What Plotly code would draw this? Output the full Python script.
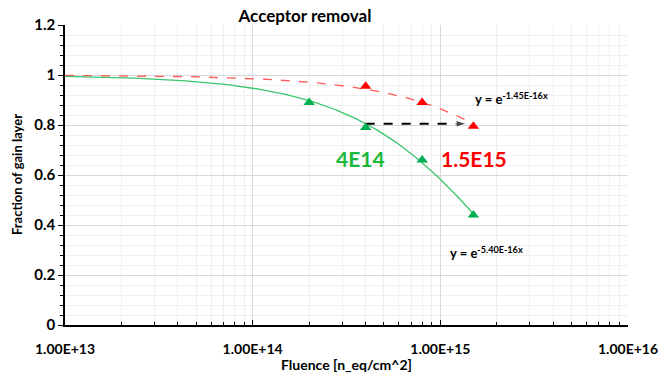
import numpy as np
import plotly.graph_objects as go

# ---- data ----
green_x = [2e14, 4e14, 8e14, 1.5e15]
green_y = [0.89, 0.79, 0.66, 0.44]
red_x = [4e14, 8e14, 1.5e15]
red_y = [0.955, 0.89, 0.795]

# fit coefficients shown on chart
green_k = 5.40e-16
red_k = 1.45e-16
fit_start, fit_end = 1e13, 1.5e15

x_tickvals = [1e13, 1e14, 1e15, 1e16]
x_ticktext = ["1.00E+13", "1.00E+14", "1.00E+15", "1.00E+16"]
y_tickvals = [0, 0.2, 0.4, 0.6, 0.8, 1.0, 1.2]
y_ticktext = ["0", "0.2", "0.4", "0.6", "0.8", "1", "1.2"]

arrow_x = [4e14, 1.38e15]
arrow_y = [0.805, 0.805]

FONT = "Lato"
GREEN = "#00B050"
RED = "#FF0000"

fx = np.logspace(np.log10(fit_start), np.log10(fit_end), 200)

fig = go.Figure()
fig.add_trace(go.Scatter(x=fx, y=np.exp(-red_k * fx), mode="lines",
                         line=dict(color="#FF5A5A", width=1.3, dash="dash"),
                         hoverinfo="skip", showlegend=False))
fig.add_trace(go.Scatter(x=fx, y=np.exp(-green_k * fx), mode="lines",
                         line=dict(color="#3CC56E", width=1.3),
                         hoverinfo="skip", showlegend=False))
fig.add_trace(go.Scatter(x=arrow_x, y=arrow_y, mode="lines+markers",
                         line=dict(color="black", width=2.2, dash="dash"),
                         marker=dict(symbol=["circle", "arrow"], size=[0, 11],
                                     angleref="previous", color="black"),
                         showlegend=False))
fig.add_trace(go.Scatter(x=green_x, y=green_y, mode="markers",
                         marker=dict(symbol="triangle-up", size=10, color=GREEN),
                         showlegend=False))
fig.add_trace(go.Scatter(x=red_x, y=red_y, mode="markers",
                         marker=dict(symbol="triangle-up", size=10, color=RED),
                         showlegend=False))

minor_x = [k * 10 ** d for d in range(13, 16) for k in range(2, 10)]

fig.update_xaxes(type="log", range=[13, 16], tickmode="array",
                 tickvals=x_tickvals, ticktext=x_ticktext,
                 showline=True, linecolor="black", linewidth=1.5,
                 showgrid=True, gridcolor="#D9D9D9", gridwidth=1,
                 ticks="inside", ticklen=5, tickcolor="black",
                 ticklabelstandoff=10, automargin=False,
                 tickfont=dict(family=FONT, size=14, color="black", weight="bold"),
                 minor=dict(tickmode="array", tickvals=minor_x, showgrid=True,
                            gridcolor="#EFEFEF", ticks="inside", ticklen=3,
                            tickcolor="black"),
                 title=dict(text="Fluence [n_eq/cm^2]", standoff=6,
                            font=dict(family=FONT, size=14, color="black", weight="bold")),
                 zeroline=False)
fig.update_yaxes(range=[0, 1.2], tickmode="array",
                 tickvals=y_tickvals, ticktext=y_ticktext,
                 ticksuffix="\u00a0\u00a0",
                 showline=True, linecolor="black", linewidth=1.5,
                 showgrid=True, gridcolor="#D9D9D9", gridwidth=1,
                 ticks="outside", ticklen=5, tickcolor="black",
                 automargin=False,
                 tickfont=dict(family=FONT, size=15, color="black", weight="bold"),
                 minor=dict(dtick=0.04, showgrid=True, gridcolor="#EFEFEF",
                            ticks="outside", ticklen=3, tickcolor="black"),
                 zeroline=False)

fig.add_annotation(xref="paper", yref="paper", x=(17 - 65) / 563, y=0.5,
                   xanchor="center", yanchor="middle",
                   text="Fraction of gain layer", textangle=-90, showarrow=False,
                   font=dict(family=FONT, size=13, color="black", weight="bold"))
fig.add_annotation(x=np.log10(3.75e14), y=0.668, text="4E14", showarrow=False,
                   font=dict(family=FONT, size=21, color="#1DB83A", weight="bold"))
fig.add_annotation(x=np.log10(1.52e15), y=0.668, text="1.5E15", showarrow=False,
                   font=dict(family=FONT, size=21, color=RED, weight="bold"))
fig.add_annotation(x=np.log10(1.5e15), y=0.905, xanchor="left", text="y = e<sup>-1.45E-16x</sup>",
                   showarrow=False, font=dict(family=FONT, size=13, color="black", weight="bold"))
fig.add_annotation(x=np.log10(1.1e15), y=0.29, xanchor="left", text="y = e<sup>-5.40E-16x</sup>",
                   showarrow=False, font=dict(family=FONT, size=13, color="black", weight="bold"))

fig.update_layout(
    width=666, height=373,
    margin=dict(l=65, r=38, t=25, b=48),
    paper_bgcolor="white", plot_bgcolor="white",
    title=dict(text="Acceptor removal", x=305 / 666, xanchor="center",
               y=1 - 16 / 373, yanchor="middle",
               font=dict(family=FONT, size=17, color="black", weight="bold")),
)

fig.write_html("out.html")
